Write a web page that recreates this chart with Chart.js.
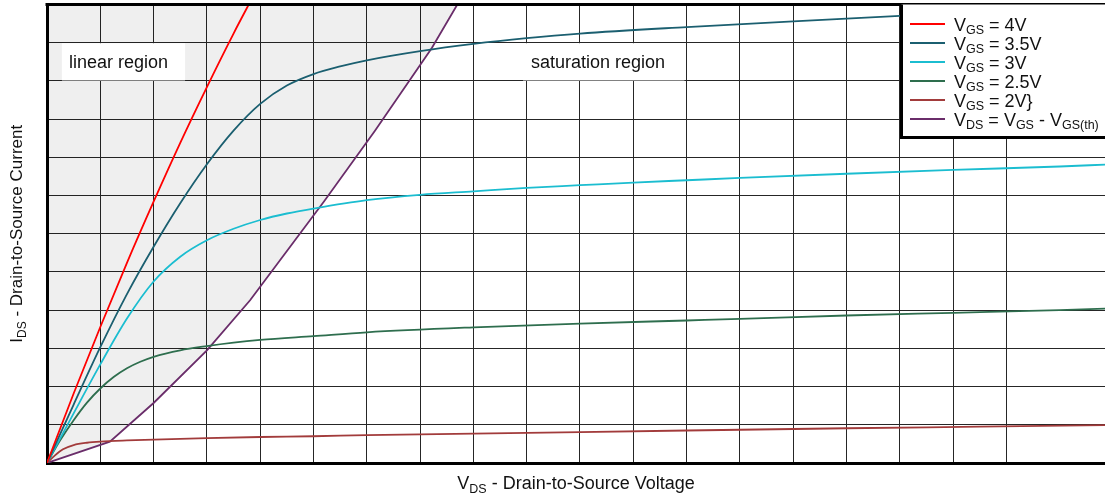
<!DOCTYPE html>
<html>
<head>
<meta charset="utf-8">
<script src="https://cdn.jsdelivr.net/npm/chart.js@4.4.0/dist/chart.umd.min.js"></script>
<style>
  html, body { margin: 0; padding: 0; background: #fff; }
  #wrap { width: 1105px; height: 495px; position: relative; }
</style>
</head>
<body>
<div id="wrap"><canvas id="mosfet-chart"></canvas></div>
<script>
// output characteristics (x = VDS, y = IDS, grid units)
const vds4V = [0, 0.5, 1.0, 1.5, 2.0, 2.5, 3.0, 3.5, 3.85];
const ids4V = [0, 1.82, 3.56, 5.24, 6.84, 8.38, 9.84, 11.24, 12.17];

const vds35V = [0, 0.5, 1.0, 1.5, 2.0, 2.5, 3.0, 3.5, 4.0, 4.5, 5.0, 5.5, 6.0, 7.0, 8.0, 9.0, 10.0, 12.0, 14.0, 16.0, 18.0, 19.85];
const ids35V = [0, 1.53, 3.03, 4.42, 5.66, 6.8, 7.82, 8.7, 9.4, 9.88, 10.18, 10.38, 10.54, 10.78, 10.97, 11.12, 11.24, 11.41, 11.56, 11.7, 11.85, 12.0];

const vds3V = [0, 0.5, 1.0, 1.5, 2.0, 2.5, 3.0, 3.5, 4.0, 4.5, 5.0, 6.0, 7.0, 8.0, 9.0, 10.0, 11.0, 12.0, 13.0, 15.0, 17.0, 19.0, 19.85];
const ids3V = [0, 1.3, 2.58, 3.78, 4.75, 5.4, 5.83, 6.13, 6.36, 6.53, 6.66, 6.88, 7.02, 7.11, 7.2, 7.27, 7.34, 7.4, 7.46, 7.57, 7.67, 7.76, 7.81];

const vds25V = [0, 0.25, 0.5, 0.75, 1.0, 1.25, 1.5, 1.75, 2.0, 2.5, 3.0, 3.5, 4.0, 5.0, 6.0, 8.0, 10.0, 12.0, 13.0, 15.0, 17.0, 19.0, 19.85];
const ids25V = [0, 0.6, 1.12, 1.58, 1.95, 2.25, 2.48, 2.65, 2.78, 2.95, 3.06, 3.15, 3.22, 3.32, 3.42, 3.55, 3.65, 3.73, 3.77, 3.86, 3.93, 4.0, 4.04];

const vds2V = [0, 0.15, 0.3, 0.5, 0.75, 1.0, 1.5, 2.0, 3.0, 4.0, 5.0, 6.0, 8.0, 10.0, 12.0, 15.0, 17.5, 19.85];
const ids2V = [0, 0.2, 0.36, 0.47, 0.53, 0.56, 0.59, 0.61, 0.65, 0.68, 0.7, 0.73, 0.77, 0.81, 0.85, 0.91, 0.95, 0.99];

// saturation boundary VDS = VGS - VGS(th)
const vdsSat = [0, 1.18, 2.0, 3.0, 3.81, 5.2, 6.15, 7.22, 7.72];
const idsSat = [0, 0.56, 1.57, 2.95, 4.26, 6.85, 8.69, 10.86, 12.05];

const seriesLabels = ['V_{GS} = 4V', 'V_{GS} = 3.5V', 'V_{GS} = 3V', 'V_{GS} = 2.5V', 'V_{GS} = 2V}', 'V_{DS} = V_{GS} - V_{GS(th)}'];
const seriesColors = ['#ff0000', '#1b5f70', '#1bbdd0', '#2e6e4e', '#a23b3b', '#6a2d6a'];
const regionLabels = ['linear region', 'saturation region'];
const xTitle = 'V_{DS} - Drain-to-Source Voltage';
const yTitle = 'I_{DS} - Drain-to-Source Current';

const FONT = '"Liberation Sans", Arial, sans-serif';

function pts(xs, ys) {
  return xs.map((x, i) => ({ x: x, y: ys[i] }));
}

// split 'V_{GS} = 4V' into normal / subscript pieces
function parts(str) {
  const out = [];
  const re = /_\{([^}]*)\}/g;
  let last = 0, m;
  while ((m = re.exec(str)) !== null) {
    if (m.index > last) out.push({ t: str.slice(last, m.index), sub: false });
    out.push({ t: m[1], sub: true });
    last = re.lastIndex;
  }
  if (last < str.length) out.push({ t: str.slice(last), sub: false });
  return out;
}

function richWidth(ctx, str, size, subSize) {
  let w = 0;
  parts(str).forEach(p => {
    ctx.font = (p.sub ? subSize : size) + 'px ' + FONT;
    w += ctx.measureText(p.t).width;
  });
  return w;
}

function drawRich(ctx, str, x, y, size, subSize) {
  let cx = x;
  ctx.textBaseline = 'alphabetic';
  ctx.textAlign = 'left';
  parts(str).forEach(p => {
    ctx.font = (p.sub ? subSize : size) + 'px ' + FONT;
    ctx.fillText(p.t, cx, p.sub ? y + 3.5 : y);
    cx += ctx.measureText(p.t).width;
  });
}

const extras = {
  id: 'extras',
  beforeDatasetsDraw(chart) {
    const { ctx, scales: { x, y } } = chart;
    // white label boxes sit on top of the grid and shading
    const boxes = [
      { x0: 0.28, x1: 2.59, text: regionLabels[0], tx: 69 },
      { x0: 8.93, x1: 11.96, text: regionLabels[1], tx: 531 },
    ];
    ctx.save();
    boxes.forEach(b => {
      const left = x.getPixelForValue(b.x0);
      const right = x.getPixelForValue(b.x1);
      const top = y.getPixelForValue(11) + 0.5;
      const bottom = y.getPixelForValue(10) - 0.5;
      ctx.fillStyle = '#fff';
      ctx.fillRect(left, top, right - left, bottom - top);
      ctx.fillStyle = '#111';
      ctx.font = '18px ' + FONT;
      ctx.textBaseline = 'alphabetic';
      ctx.fillText(b.text, b.tx, top + 25);
    });
    ctx.restore();
  },
  afterDraw(chart) {
    const { ctx, chartArea } = chart;
    ctx.save();
    // top frame line
    ctx.strokeStyle = '#000';
    ctx.lineWidth = 3;
    ctx.beginPath();
    ctx.moveTo(chartArea.left - 1.5, chartArea.top);
    ctx.lineTo(chartArea.right, chartArea.top);
    ctx.stroke();

    // legend box
    const lx = 901.5, ly = chartArea.top, lb = 137.5;
    ctx.fillStyle = '#fff';
    ctx.fillRect(lx, ly, 220, lb - ly);
    ctx.beginPath();
    ctx.moveTo(lx, ly);
    ctx.lineTo(lx, lb);
    ctx.lineTo(lx + 220, lb);
    ctx.stroke();
    seriesLabels.forEach((lab, i) => {
      const cy = 24 + i * 19;
      ctx.strokeStyle = seriesColors[i];
      ctx.lineWidth = 2;
      ctx.beginPath();
      ctx.moveTo(910, cy);
      ctx.lineTo(945, cy);
      ctx.stroke();
      ctx.fillStyle = '#111';
      drawRich(ctx, lab, 954, cy + 6.5, 18, 12.5);
    });

    // axis titles
    ctx.fillStyle = '#111';
    const cx = (chartArea.left + chartArea.right) / 2;
    const wx = richWidth(ctx, xTitle, 18, 12.5);
    drawRich(ctx, xTitle, cx - wx / 2, 489, 18, 12.5);

    const cyMid = (chartArea.top + chartArea.bottom) / 2;
    const wy = richWidth(ctx, yTitle, 17, 12);
    ctx.translate(22, cyMid);
    ctx.rotate(-Math.PI / 2);
    drawRich(ctx, yTitle, -wy / 2, 0, 17, 12);
    ctx.restore();
  }
};

const vgsData = [
  pts(vds4V, ids4V),
  pts(vds35V, ids35V),
  pts(vds3V, ids3V),
  pts(vds25V, ids25V),
  pts(vds2V, ids2V),
];

const datasets = vgsData.map((d, i) => ({
  label: seriesLabels[i],
  data: d,
  borderColor: seriesColors[i],
  borderWidth: 1.8,
  pointRadius: 0,
  cubicInterpolationMode: 'monotone',
  fill: false,
}));

datasets.push({
  label: seriesLabels[5],
  data: pts(vdsSat, idsSat),
  borderColor: seriesColors[5],
  borderWidth: 1.8,
  pointRadius: 0,
  tension: 0,
  fill: 'end',
  backgroundColor: 'rgba(0, 0, 0, 0.063)',
});

new Chart(document.getElementById('mosfet-chart'), {
  type: 'line',
  data: { datasets: datasets },
  options: {
    responsive: true,
    maintainAspectRatio: false,
    animation: false,
    layout: { padding: { left: 47, top: 4.5, right: 0, bottom: 32 } },
    plugins: {
      legend: { display: false },
      tooltip: { enabled: false },
      filler: { drawTime: 'beforeDatasetsDraw' },
    },
    scales: {
      x: {
        type: 'linear',
        min: 0,
        max: 19.85,
        ticks: { display: false, stepSize: 1 },
        grid: { color: '#262626', lineWidth: 1, drawTicks: false },
        border: { display: true, color: '#000', width: 3 },
      },
      y: {
        type: 'linear',
        min: 0,
        max: 12,
        ticks: { display: false, stepSize: 1 },
        grid: { color: '#262626', lineWidth: 1, drawTicks: false },
        border: { display: true, color: '#000', width: 3 },
      },
    },
  },
  plugins: [extras],
});
</script>
</body>
</html>
